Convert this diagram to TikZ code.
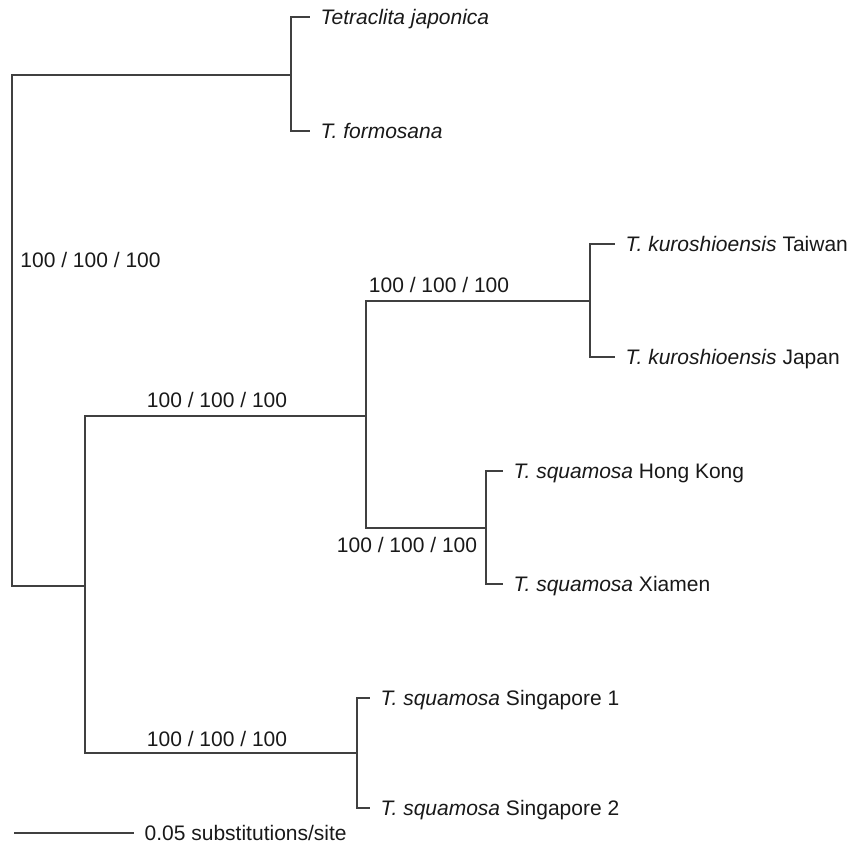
\documentclass[tikz,border=0pt]{standalone}
\usepackage{fontspec}
\setmainfont{Liberation Sans}
\usepackage{tikz}
\usetikzlibrary{positioning}

\begin{document}
\begin{tikzpicture}[x=0.5pt, y=-0.5pt, line width=0.7pt,
        branch/.style={draw=black!75, line cap=rect},
        taxon/.style={anchor=west, inner xsep=5.5pt, inner ysep=0pt,
            text height=7.5pt, text depth=0pt, text=black!90,
            font=\fontsize{10.5}{12}\selectfont},
        support/.style={inner sep=0pt, text height=7.5pt, text depth=0pt,
            text=black!90, font=\fontsize{10.5}{12}\selectfont}]

    \useasboundingbox (0,0) rectangle (851,843);

    % internal nodes (pixel grid, y downwards)
    \coordinate (root)  at (12,330);
    \coordinate (outg)  at (291,75);
    \coordinate (ingr)  at (85,586);
    \coordinate (kusq)  at (366,416);
    \coordinate (kuro)  at (590,301);
    \coordinate (sqcn)  at (486,528);
    \coordinate (sqsg)  at (357,753);

    % tip labels
    \node[taxon] (tjap) at (309,17)  {\textit{Tetraclita japonica}};
    \node[taxon] (tfor) at (309,131) {\textit{T. formosana}};
    \node[taxon] (ktw)  at (614,244) {\textit{T. kuroshioensis} Taiwan};
    \node[taxon] (kjp)  at (614,357) {\textit{T. kuroshioensis} Japan};
    \node[taxon] (shk)  at (502,471) {\textit{T. squamosa} Hong Kong};
    \node[taxon] (sxm)  at (502,584) {\textit{T. squamosa} Xiamen};
    \node[taxon] (ssg1) at (369,698) {\textit{T. squamosa} Singapore 1};
    \node[taxon] (ssg2) at (369,808) {\textit{T. squamosa} Singapore 2};

    % branches
    \draw[branch] (root) |- (outg);
    \draw[branch] (root) |- (ingr);
    \draw[branch] (outg) |- (tjap.west);
    \draw[branch] (outg) |- (tfor.west);
    \draw[branch] (ingr) |- (kusq);
    \draw[branch] (ingr) |- (sqsg);
    \draw[branch] (kusq) |- (kuro);
    \draw[branch] (kusq) |- (sqcn);
    \draw[branch] (kuro) |- (ktw.west);
    \draw[branch] (kuro) |- (kjp.west);
    \draw[branch] (sqcn) |- (shk.west);
    \draw[branch] (sqcn) |- (sxm.west);
    \draw[branch] (sqsg) |- (ssg1.west);
    \draw[branch] (sqsg) |- (ssg2.west);

    % bootstrap / posterior support
    \node[support] (bsroot) at (90.5,260) {100 / 100 / 100};
    \node[support] (bsin)   at (217,400)  {100 / 100 / 100};
    \node[support] (bskuro) at (439,285)  {100 / 100 / 100};
    \node[support] (bssqcn) at (407,545)  {100 / 100 / 100};
    \node[support] (bssqsg) at (217,739)  {100 / 100 / 100};

    % scale bar
    \coordinate (sbar) at (15,833);
    \node[taxon] (sbtxt) at (133,833) {0.05 substitutions/site};
    \draw[branch] (sbar) -- (sbtxt.west);

\end{tikzpicture}
\end{document}
